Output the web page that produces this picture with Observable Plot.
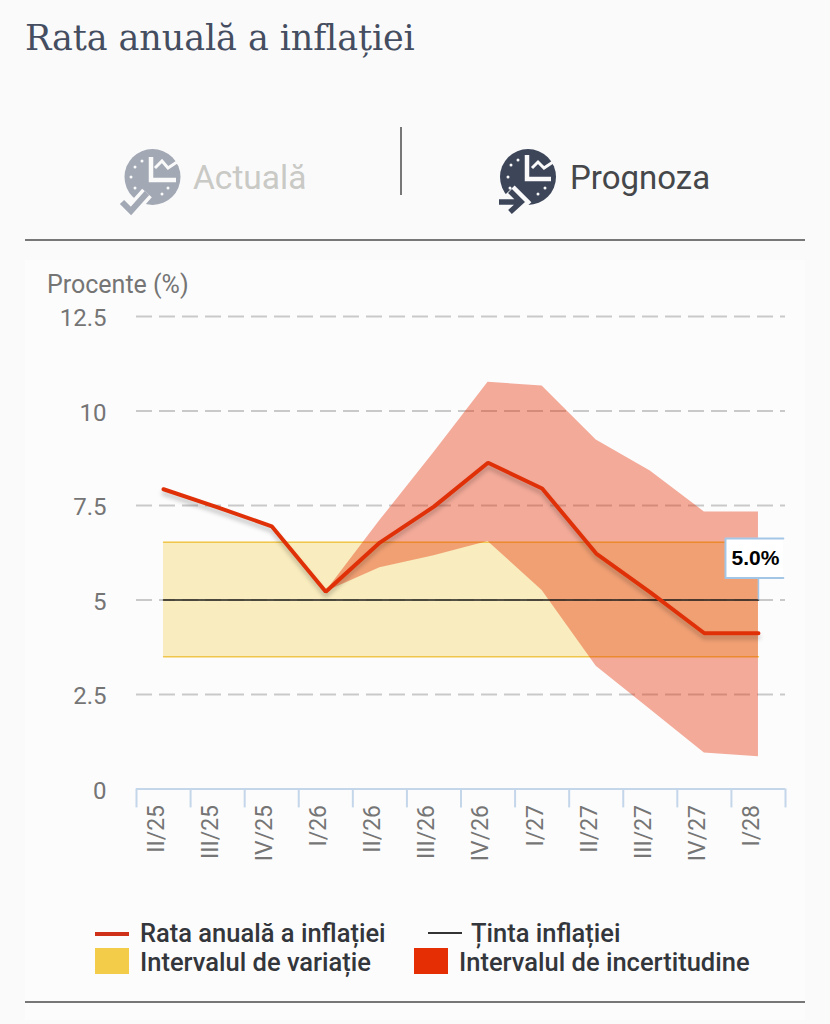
<!DOCTYPE html>
<html lang="ro">
<head>
<meta charset="utf-8">
<script src="https://cdn.jsdelivr.net/npm/d3@7"></script>
<script src="https://cdn.jsdelivr.net/npm/@observablehq/plot@0.6"></script>
<style>
html,body{margin:0;padding:0;background:#fafafa;}
#page{position:relative;width:830px;height:1024px;overflow:hidden;font-family:Roboto,sans-serif;}
#page>*{position:absolute;}
.t{white-space:nowrap;line-height:1;}
.lg{font-weight:500;font-size:25.5px;color:#33363b;white-space:nowrap;line-height:1;}
</style>
</head>
<body>
<div id="page">
  <div class="t" style="left:25px;top:18px;font:35px 'DejaVu Serif',serif;color:#454d60;letter-spacing:-.1px;">Rata anuală a inflației</div>
  <div style="left:400px;top:127px;width:1.5px;height:68px;background:#777;"></div>
  <svg style="left:110px;top:140px" width="90" height="80" viewBox="0 0 90 80">
    <circle cx="42.5" cy="37" r="28" fill="#a2a8b4"/>
    <path d="M41 17V40H66" fill="none" stroke="#fafafa" stroke-width="4.5"/>
    <path d="M45 28L52 21 58 28 67 22" fill="none" stroke="#fafafa" stroke-width="3"/>
    <path d="M12 62L21 71 37 53" fill="none" stroke="#fafafa" stroke-width="13"/>
    <path d="M12 62L21 71 37 53" fill="none" stroke="#a2a8b4" stroke-width="6"/>
    <g fill="#fafafa"><circle cx="32" cy="21" r="1.5"/><circle cx="25" cy="27" r="1.5"/><circle cx="21" cy="37" r="1.5"/><circle cx="25" cy="48" r="1.5"/><circle cx="58" cy="48" r="1.5"/><circle cx="52" cy="54" r="1.5"/></g>
  </svg>
  <div class="t" style="left:193px;top:161px;font-size:33.5px;color:#c9c9c5;">Actuală</div>
  <svg style="left:485px;top:140px" width="90" height="80" viewBox="0 0 90 80">
    <circle cx="43" cy="37" r="28" fill="#3d4559"/>
    <path d="M42 15V39H66" fill="none" stroke="#fafafa" stroke-width="4.5"/>
    <path d="M47 28L53 22 59 28 68 22" fill="none" stroke="#fafafa" stroke-width="3"/>
    <path d="M25 50L37 62 25 73" fill="none" stroke="#fafafa" stroke-width="13"/>
    <path d="M14 62H34M25 51L36 62 25 72" fill="none" stroke="#3d4559" stroke-width="5.5"/>
    <g fill="#fafafa"><circle cx="33" cy="20" r="1.5"/><circle cx="26" cy="25" r="1.5"/><circle cx="23" cy="37" r="1.5"/><circle cx="25" cy="48" r="1.5"/><circle cx="60" cy="48" r="1.5"/><circle cx="53" cy="54" r="1.5"/></g>
  </svg>
  <div class="t" style="left:570px;top:161px;font-size:33px;color:#45474a;">Prognoza</div>
  <div style="left:25px;top:239px;width:780px;height:1.5px;background:#777;"></div>
  <div style="left:25px;top:260px;width:780px;height:760px;background:#fcfcfc;"></div>
  <div class="t" style="left:47px;top:272px;font-size:25px;color:#757575;">Procente (%)</div>
  <div id="chart" style="left:0;top:260px;"></div>

  <div style="left:95px;top:932px;width:34px;height:4px;background:#cf3118;"></div>
  <div class="lg" style="left:140px;top:921px;">Rata anuală a inflației</div>
  <div style="left:428px;top:932px;width:34px;height:2px;background:#333;"></div>
  <div class="lg" style="left:471px;top:921px;">Ținta inflației</div>
  <div style="left:95px;top:948px;width:34px;height:26px;background:#f3cd4a;"></div>
  <div class="lg" style="left:140px;top:950px;">Intervalul de variație</div>
  <div style="left:414px;top:948px;width:34px;height:26px;background:#e62e05;"></div>
  <div class="lg" style="left:459px;top:950px;">Intervalul de incertitudine</div>
  <div style="left:25px;top:1001px;width:780px;height:1.5px;background:#777;"></div>
</div>
<script>
const quarters = ["II/25","III/25","IV/25","I/26","II/26","III/26","IV/26","I/27","II/27","III/27","IV/27","I/28"];
const inflation = [7.93,7.45,6.95,5.22,6.52,7.47,8.63,7.95,6.23,5.2,4.12,4.12];
const upperBound = [null,null,null,5.22,7.1,8.9,10.76,10.66,9.23,8.41,7.33,7.33];
const lowerBound = [null,null,null,5.22,5.85,6.17,6.55,5.25,3.25,2.1,0.95,0.85];
const yTicks = [0,2.5,5,7.5,10,12.5];
const targetValue = 5;
const variationLow = 3.5;
const variationHigh = 6.53;
const calloutLabel = "5.0%";

const idx = quarters.map((_, i) => i);
const lineData = idx.map(i => ({i, v: inflation[i]}));
const fanData = idx.filter(i => upperBound[i] != null).map(i => ({i, hi: upperBound[i], lo: lowerBound[i]}));
const rangeData = [0, quarters.length - 1].map(i => ({i, lo: variationLow, hi: variationHigh}));
const targetData = [0, quarters.length - 1].map(i => ({i, v: targetValue}));
const last = quarters.length - 1;
const blue = "#c4d6ea", calloutBlue = "#a3c6e6";
const boxL = last - 0.61, boxR = last + 0.46, boxB = targetValue + 0.58, boxT = targetValue + 1.63;

const chart = Plot.plot({
  width: 830, height: 620,
  marginTop: 56, marginBottom: 91.5, marginLeft: 136, marginRight: 45,
  style: {background: "transparent", fontFamily: "Roboto, sans-serif", overflow: "visible"},
  x: {type: "linear", domain: [-0.5, 11.5]},
  y: {domain: [0, 12.5]},
  marks: [
    Plot.ruleY(yTicks.filter(d => d > 0), {stroke: "#c9c9c9", strokeWidth: 2, strokeDasharray: "16 7"}),
    Plot.areaY(rangeData, {x: "i", y1: "lo", y2: "hi", fill: "#f3cd4a", fillOpacity: 0.35}),
    Plot.lineY(rangeData, {x: "i", y: "hi", stroke: "#f0c64a", strokeWidth: 1.5}),
    Plot.lineY(rangeData, {x: "i", y: "lo", stroke: "#f0c64a", strokeWidth: 1.5}),
    Plot.areaY(fanData, {x: "i", y1: "lo", y2: "hi", fill: "#e63005", fillOpacity: 0.4}),
    Plot.lineY(targetData, {x: "i", y: "v", stroke: "#1c1c1c", strokeWidth: 1.6}),
    Plot.lineY(lineData, {x: "i", y: "v", stroke: "#e03008", strokeWidth: 4, strokeLinejoin: "miter", imageFilter: "drop-shadow(0 4px 2px rgba(0,0,0,.22))"}),
    Plot.ruleY([0], {stroke: blue, strokeWidth: 2, x1: -0.5, x2: 11.5}),
    Plot.ruleX(d3.range(quarters.length + 1).map(d => d - 0.5), {y1: 0, y2: -0.5, stroke: blue, strokeWidth: 2}),
    Plot.axisX({ticks: idx, tickFormat: i => quarters[i], tickSize: 0, tickRotate: -90, tickPadding: 16, dx: -7, fontSize: 23, color: "#757575", textAnchor: "end", lineAnchor: "middle", label: null}),
    Plot.axisY({ticks: yTicks, tickSize: 0, tickPadding: 0, dx: -30, dy: 2, fontSize: 24, color: "#757575", tickFormat: d => String(d), label: null}),
    Plot.ruleX([last], {y1: targetValue, y2: boxB, stroke: calloutBlue, strokeWidth: 1.5}),
    Plot.rect([0], {x1: boxL, x2: boxR, y1: boxB, y2: boxT, fill: "#fff"}),
    Plot.line([[boxR, boxT], [boxL, boxT], [boxL, boxB], [boxR, boxB]], {stroke: calloutBlue, strokeWidth: 2}),
    Plot.text([calloutLabel], {x: last, y: targetValue + 1.1, dx: -3, text: d => d, fontSize: 21, fontWeight: "bold", fontFamily: "'Liberation Sans', sans-serif", fill: "#000"})
  ]
});
document.getElementById("chart").appendChild(chart);
</script>
</body>
</html>
